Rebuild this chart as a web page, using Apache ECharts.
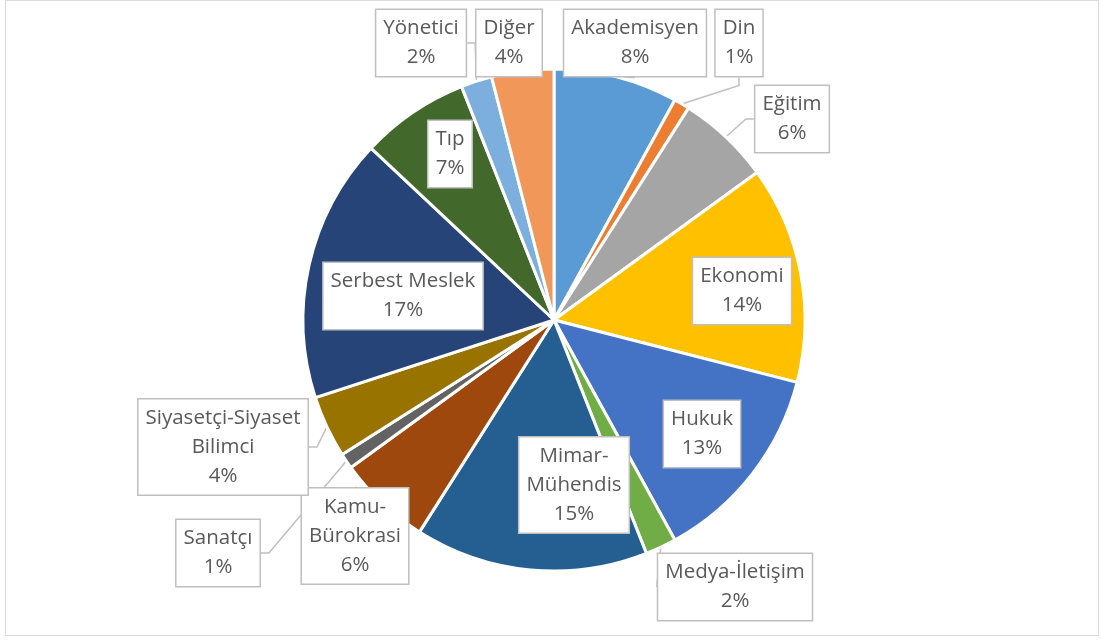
<!DOCTYPE html>
<html>
<head>
<meta charset="utf-8">
<script src="https://cdn.jsdelivr.net/npm/echarts@6/dist/echarts.min.js"></script>
<style>
  html, body { margin: 0; padding: 0; background: #fff; }
  #frame {
    position: absolute; left: 5px; top: 0; width: 1094px; height: 636px;
    border: 1.5px solid #d9d9d9; box-sizing: border-box;
  }
  #chart { position: absolute; left: 0; top: 0; width: 1103px; height: 641px; }
</style>
</head>
<body>
<div id="frame"></div>
<div id="chart"></div>
<script>
// meslek grupları (saat 12'den saat yönünde)
const categories = [
  'Akademisyen', 'Din', 'Eğitim', 'Ekonomi', 'Hukuk', 'Medya-İletişim',
  'Mimar-Mühendis', 'Kamu-Bürokrasi', 'Sanatçı', 'Siyasetçi-Siyaset Bilimci',
  'Serbest Meslek', 'Tıp', 'Yönetici', 'Diğer'
]
// etiketlerde görünen satır kırılımları
const labelNames = [
  'Akademisyen', 'Din', 'Eğitim', 'Ekonomi', 'Hukuk', 'Medya-İletişim',
  'Mimar-\nMühendis', 'Kamu-\nBürokrasi', 'Sanatçı', 'Siyasetçi-Siyaset\nBilimci',
  'Serbest Meslek', 'Tıp', 'Yönetici', 'Diğer'
]
const values = [8, 1, 6, 14, 13, 2, 15, 6, 1, 4, 17, 7, 2, 4]

const colors = [
  '#5B9BD5', '#ED7D31', '#A5A5A5', '#FFC000', '#4472C4', '#70AD47',
  '#255E91', '#9E480E', '#636363', '#997300', '#264478', '#43682B',
  '#7CAFDD', '#F1975A'
]

// etiket kutularının merkezleri
const labelCenters = [
  [635, 43], [739, 43], [792, 119], [742, 291], [702, 434], [735, 587],
  [574, 485], [355, 536], [218, 553], [223, 447], [403, 296], [450, 154],
  [421, 43], [509, 43]
]

const chart = echarts.init(document.getElementById('chart'))

chart.setOption({
  animation: false,
  series: [
    {
      type: 'pie',
      center: [554, 320],
      radius: 251,
      startAngle: 90,
      clockwise: true,
      percentPrecision: 0,
      itemStyle: { borderColor: '#fff', borderWidth: 3 },
      label: {
        show: true,
        position: 'outside',
        formatter: p => labelNames[p.dataIndex] + '\n' + p.percent + '%',
        fontFamily: '"Open Sans", sans-serif',
        fontSize: 20.5,
        lineHeight: 29,
        color: '#595959',
        align: 'center',
        backgroundColor: '#fff',
        borderColor: '#bfbfbf',
        borderWidth: 1.5,
        padding: [4, 7, 4, 7]
      },
      labelLine: {
        show: true,
        length: 8,
        length2: 8,
        lineStyle: { color: '#bfbfbf', width: 1.5 }
      },
      labelLayout: params => ({
        x: labelCenters[params.dataIndex][0],
        y: labelCenters[params.dataIndex][1],
        align: 'center',
        verticalAlign: 'middle'
      }),
      data: categories.map((name, i) => ({
        name: name,
        value: values[i],
        itemStyle: { color: colors[i] }
      }))
    }
  ]
})
</script>
</body>
</html>
